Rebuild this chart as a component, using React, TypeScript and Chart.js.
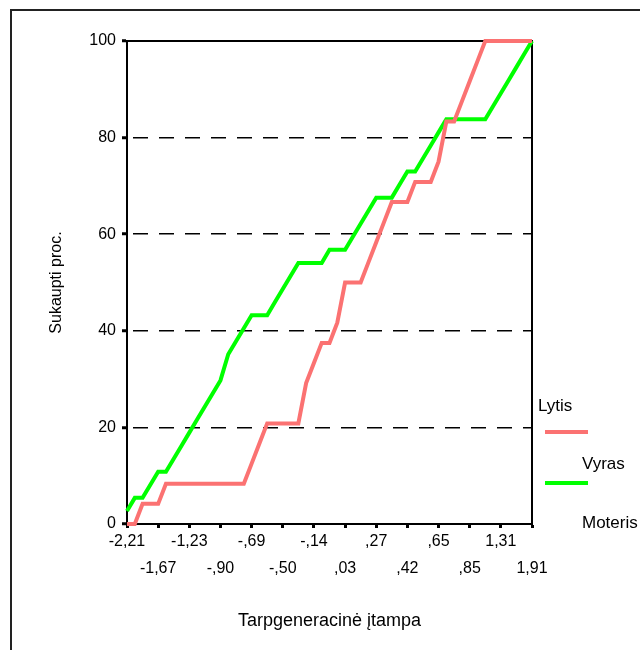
import React, { useEffect, useRef } from "react";
import { Chart, registerables } from "chart.js";

Chart.register(...registerables);

// ---- data ----
const xTickLabels = ["-2,21", "-1,67", "-1,23", "-,90", "-,69", "-,50", "-,14", ",03", ",27", ",42", ",65", ",85", "1,31", "1,91"];
const categoriesPerTick = 4;
const seriesNames = ["Vyras", "Moteris"];
const legendTitle = "Lytis";
const xTitle = "Tarpgeneracinė įtampa";
const yTitle = "Sukaupti proc.";
const yTickValues = [0, 20, 40, 60, 80, 100];

// cumulative percent per category (category index 0..52)
const vyrasCum = [
  0, 0, 4.17, 4.17, 4.17, 8.33, 8.33, 8.33, 8.33, 8.33,
  8.33, 8.33, 8.33, 8.33, 8.33, 8.33, 12.5, 16.67, 20.83, 20.83,
  20.83, 20.83, 20.83, 29.17, 33.33, 37.5, 37.5, 41.67, 50, 50,
  50, 54.17, 58.33, 62.5, 66.67, 66.67, 66.67, 70.83, 70.83, 70.83,
  75, 83.33, 83.33, 87.5, 91.67, 95.83, 100, 100, 100, 100,
  100, 100, 100,
];
const moterisCum = [
  2.7, 5.41, 5.41, 8.11, 10.81, 10.81, 13.51, 16.22, 18.92, 21.62,
  24.32, 27.03, 29.73, 35.14, 37.84, 40.54, 43.24, 43.24, 43.24, 45.95,
  48.65, 51.35, 54.05, 54.05, 54.05, 54.05, 56.76, 56.76, 56.76, 59.46,
  62.16, 64.86, 67.57, 67.57, 67.57, 70.27, 72.97, 72.97, 75.68, 78.38,
  81.08, 83.78, 83.78, 83.78, 83.78, 83.78, 83.78, 86.49, 89.19, 91.89,
  94.59, 97.3, 100,
];
const seriesValues = [vyrasCum, moterisCum];
const seriesColors = ["#FB7272", "#00FF00"];

const FONT = '"Liberation Sans", Arial, sans-serif';

const plotBoxPlugin = {
  id: "plotBox",
  beforeDatasetsDraw(chart: any) {
    const { ctx, chartArea } = chart;
    ctx.save();
    ctx.strokeStyle = "#000";
    ctx.lineWidth = 2;
    ctx.beginPath();
    ctx.moveTo(chartArea.left, chartArea.top);
    ctx.lineTo(chartArea.right, chartArea.top);
    ctx.lineTo(chartArea.right, chartArea.bottom);
    ctx.stroke();
    ctx.restore();
  },
};

const spssLegendPlugin = {
  id: "spssLegend",
  afterDraw(chart: any) {
    const { ctx, chartArea } = chart;
    const b = chartArea.bottom;
    const x0 = chartArea.right + 6;
    ctx.save();
    ctx.font = `17px ${FONT}`;
    ctx.fillStyle = "#000";
    ctx.textBaseline = "middle";
    ctx.textAlign = "left";
    ctx.fillText(legendTitle, x0, b - 118);
    const lineOffsets = [92, 41];
    const textOffsets = [60, 1];
    chart.data.datasets.forEach((ds: any, i: number) => {
      ctx.strokeStyle = ds.borderColor;
      ctx.lineWidth = 4;
      ctx.beginPath();
      ctx.moveTo(x0 + 7, b - lineOffsets[i]);
      ctx.lineTo(x0 + 50, b - lineOffsets[i]);
      ctx.stroke();
      ctx.fillStyle = "#000";
      ctx.fillText(ds.label, x0 + 44, b - textOffsets[i]);
    });
    ctx.restore();
  },
};

export default function App() {
  const ref = useRef<HTMLCanvasElement>(null);

  useEffect(() => {
    const canvas = ref.current;
    if (!canvas) return;
    Chart.defaults.font.family = FONT;
    Chart.defaults.color = "#000";
    const chart = new Chart(canvas, {
      type: "line",
      data: {
        datasets: seriesNames.map((name, s) => ({
          label: name,
          data: seriesValues[s].map((y, i) => ({ x: i, y })),
          borderColor: seriesColors[s],
          backgroundColor: seriesColors[s],
          borderWidth: 4,
          pointRadius: 0,
          pointHoverRadius: 0,
          tension: 0,
          fill: false,
          clip: false,
          borderJoinStyle: "miter",
          borderCapStyle: "butt",
        })),
      },
      options: {
        responsive: false,
        animation: false,
        events: [],
        layout: { padding: { top: 41, right: 108, left: 0, bottom: 0 } },
        plugins: {
          legend: { display: false },
          tooltip: { enabled: false },
        },
        scales: {
          x: {
            type: "linear",
            min: 0,
            max: (xTickLabels.length - 1) * categoriesPerTick,
            afterFit: (s: any) => {
              s.height = 126;
            },
            ticks: {
              stepSize: categoriesPerTick,
              autoSkip: false,
              maxRotation: 0,
              minRotation: 0,
              padding: 0,
              color: "#000",
              font: { size: 16, lineHeight: "27px" },
              callback: (value: any) => {
                const k = Math.round(Number(value) / categoriesPerTick);
                const lab = xTickLabels[k] ?? "";
                return k % 2 === 0 ? [lab] : ["", lab];
              },
            },
            grid: {
              drawOnChartArea: false,
              drawTicks: true,
              tickLength: 4,
              tickWidth: 3,
              tickColor: "#000",
            },
            border: { display: true, color: "#000", width: 2 },
            title: {
              display: true,
              text: xTitle,
              color: "#000",
              font: { size: 18 },
              padding: { top: 0, bottom: 18 },
            },
          },
          y: {
            type: "linear",
            min: yTickValues[0],
            max: yTickValues[yTickValues.length - 1],
            afterFit: (s: any) => {
              s.width = 127;
            },
            ticks: {
              stepSize: yTickValues[1] - yTickValues[0],
              padding: 6,
              color: "#000",
              font: { size: 16 },
            },
            grid: {
              color: (c: any) =>
                c.tick && c.tick.value > yTickValues[0] && c.tick.value < yTickValues[yTickValues.length - 1]
                  ? "#000"
                  : "rgba(0,0,0,0)",
              lineWidth: 1.5,
              drawTicks: true,
              tickLength: 5,
              tickWidth: 3,
              tickColor: "#000",
            },
            border: { display: true, color: "#000", width: 2, dash: [15, 11], dashOffset: 21 },
            title: {
              display: true,
              text: yTitle,
              color: "#000",
              font: { size: 16 },
              padding: { top: 47, bottom: 0 },
            },
          },
        },
      },
      plugins: [plotBoxPlugin, spssLegendPlugin],
    } as any);
    return () => chart.destroy();
  }, []);

  return (
    <div
      style={{
        position: "absolute",
        left: 0,
        top: 0,
        width: 640,
        height: 650,
        overflow: "hidden",
        background: "#fff",
      }}
    >
      <canvas ref={ref} width={640} height={650} style={{ position: "absolute", left: 0, top: 0 }} />
      <div
        style={{
          position: "absolute",
          left: 10,
          top: 9,
          width: 800,
          height: 800,
          borderLeft: "2px solid #222",
          borderTop: "2px solid #222",
          pointerEvents: "none",
        }}
      />
    </div>
  );
}
